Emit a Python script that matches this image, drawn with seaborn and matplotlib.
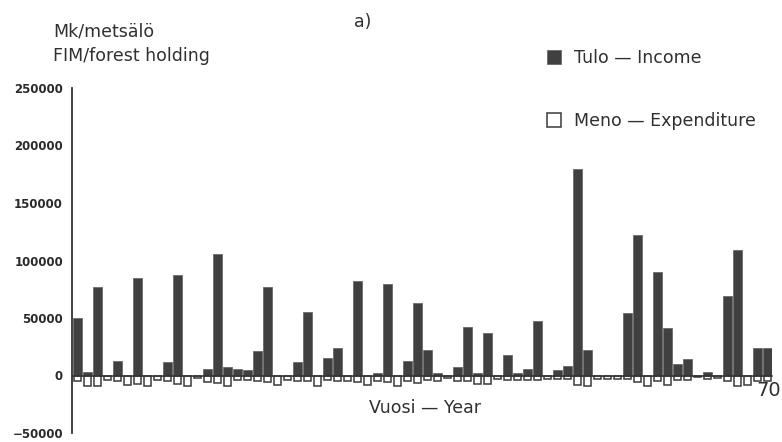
import numpy as np
import pandas as pd
import matplotlib
matplotlib.use('Agg')
import matplotlib.pyplot as plt
from matplotlib.patches import Patch
import seaborn as sns

# years 1..70 of the simulation period
years = list(range(1, 71))

# income per year (FIM / forest holding)
income = [50000, 3000, 77000, 0, 13000, 0, 85000, 0, 0, 12000,
          87000, 0, 0, 6000, 106000, 7500, 6000, 4500, 21000, 77000,
          0, 0, 12000, 55000, 0, 15000, 24000, 0, 82000, 0,
          2500, 80000, 0, 12500, 63000, 22000, 2500, 0, 7500, 42000,
          2500, 37000, 0, 18000, 2000, 5500, 47000, 0, 5000, 8000,
          180000, 22000, 0, 0, 0, 54000, 122000, 0, 90000, 41000,
          10000, 14000, 0, 3000, 0, 69000, 109000, 0, 24000, 23500]

# expenditure per year (drawn below zero)
expenditure = [-5000, -9000, -9000, -3500, -4500, -8000, -7500, -9500, -3500, -5000,
               -7000, -9500, -2500, -5500, -6500, -9500, -3500, -4000, -4500, -5500,
               -8000, -4000, -4500, -5000, -9000, -3500, -4500, -4500, -5500, -8000,
               -4500, -6000, -9000, -4500, -6500, -3500, -4500, -2000, -4500, -4500,
               -7000, -7000, -3000, -3500, -3500, -3500, -4000, -3000, -3000, -3000,
               -8000, -9000, -3000, -3000, -3000, -3000, -6000, -9000, -4500, -8000,
               -4000, -4000, -1500, -3000, -2500, -5000, -9000, -8000, -4500, -4500]

yticks = [-50000, 0, 50000, 100000, 150000, 200000, 250000]

df = pd.DataFrame({'year': years, 'income': income, 'expenditure': expenditure})

sns.set_style('white')
plt.rcParams['font.family'] = ['DejaVu Sans']

W, H = 782, 442
fig = plt.figure(figsize=(W / 100, H / 100), dpi=100)
ax = fig.add_axes([72 / W, 1 - 433 / H, 700 / W, 345 / H])

income_col = '#404040'
edge_col = '#3a3a3a'

sns.barplot(data=df, x='year', y='income', color=income_col, saturation=1,
            width=0.86, edgecolor='#6a6a6a', linewidth=0.6, ax=ax)
sns.barplot(data=df, x='year', y='expenditure', color='white', saturation=1,
            width=0.72, edgecolor=edge_col, linewidth=1.1, ax=ax)

ax.set_xlim(-0.55, 69.45)
ax.set_ylim(-50000, 250000)
ax.set_xlabel('')
ax.set_ylabel('')

# axes: left spine plus a zero line as the x axis
for s in ['top', 'right']:
    ax.spines[s].set_visible(False)
ax.spines['left'].set_linewidth(1.3)
ax.spines['left'].set_color('#333333')
ax.spines['bottom'].set_position(('data', 0))
ax.spines['bottom'].set_linewidth(1.1)
ax.spines['bottom'].set_color('#333333')

ax.set_yticks(yticks)
ax.set_yticklabels([str(v).replace('-', '\u2212') for v in yticks],
                   fontsize=8.5, fontweight='bold', color='#2a2a2a')
ax.tick_params(axis='y', direction='inout', length=9, width=1.2, color='#333333', pad=2)

# single tick at the end of the year axis, its label placed so it stays inside
ax.set_xticks([69.45])
ax.set_xticklabels([''])
ax.tick_params(axis='x', direction='inout', length=7, width=1.0, color='#333333')

txt = dict(color='#303030', fontsize=12.5)
fig.text(781 / W, 1 - 390 / H, str(years[-1]), va='center', ha='right',
         color='#303030', fontsize=14)
fig.text(53 / W, 1 - 31 / H, 'Mk/metsälö', va='center', ha='left', **txt)
fig.text(53 / W, 1 - 56 / H, 'FIM/forest holding', va='center', ha='left', **txt)
fig.text(363 / W, 1 - 22 / H, 'a)', va='center', ha='center', **txt)
fig.text(425 / W, 1 - 408 / H, 'Vuosi \u2014 Year', va='center', ha='center', **txt)

handles = [Patch(facecolor=income_col, edgecolor='#6a6a6a', linewidth=0.6),
           Patch(facecolor='white', edgecolor=edge_col, linewidth=1.1)]
leg = ax.legend(handles, ['Tulo \u2014 Income', 'Meno \u2014 Expenditure'],
                loc='upper left', bbox_to_anchor=(538 / W, 1 - 40 / H),
                bbox_transform=fig.transFigure, frameon=False,
                fontsize=12.5, labelspacing=2.6, handlelength=0.85,
                handleheight=0.85, handletextpad=0.7, borderpad=0)
for t in leg.get_texts():
    t.set_color('#303030')

fig.savefig('out.png', dpi=100, facecolor='white')
